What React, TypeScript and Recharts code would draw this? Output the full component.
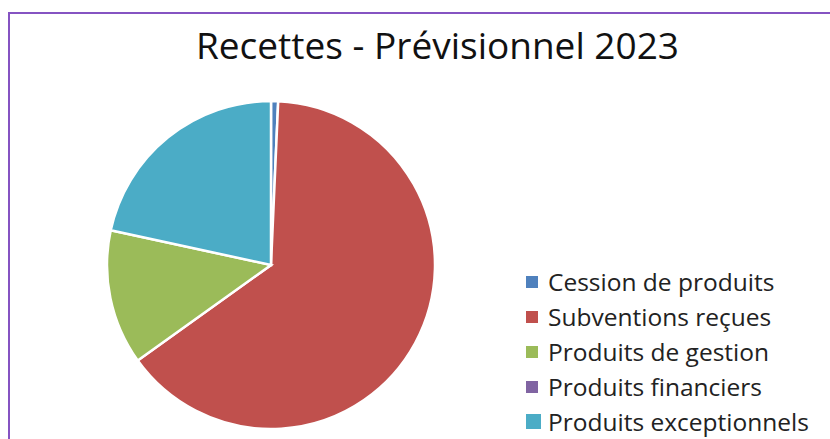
import React from "react";
import { PieChart, Pie, Cell, Legend } from "recharts";

const categories = [
  "Cession de produits",
  "Subventions reçues",
  "Produits de gestion",
  "Produits financiers",
  "Produits exceptionnels",
];
const shares = [0.7, 64.4, 13.3, 0, 21.6];
const colors = ["#4F81BD", "#C0504D", "#9BBB59", "#8064A2", "#4BACC6"];
const title = "Recettes - Prévisionnel 2023";

const data = categories.map((name, i) => ({ name, value: shares[i] }));

const FONT = "'Open Sans', Lato, sans-serif";

const LegendContent = () => (
  <div style={{ fontFamily: FONT }}>
    {categories.map((name, i) => {
      const sz = i === 4 ? 15 : 12;
      return (
        <div
          key={name}
          style={{ display: "flex", alignItems: "center", height: 35 }}
        >
          <span
            style={{
              display: "inline-block",
              width: 16,
              height: 16,
              marginRight: 6,
              position: "relative",
            }}
          >
            <span
              style={{
                position: "absolute",
                left: 0,
                top: (16 - sz) / 2,
                width: sz,
                height: sz,
                background: colors[i],
              }}
            />
          </span>
          <span style={{ fontSize: 24.5, color: "#222", whiteSpace: "nowrap" }}>
            {name}
          </span>
        </div>
      );
    })}
  </div>
);

export default function App() {
  return (
    <div
      style={{
        position: "fixed",
        left: 0,
        top: 0,
        width: 830,
        height: 439,
        background: "#fff",
        overflow: "hidden",
      }}
    >
      <div
        style={{
          position: "absolute",
          left: 8,
          top: 12,
          width: 840,
          height: 440,
          borderTop: "2px solid #8553C2",
          borderLeft: "2px solid #8553C2",
          boxSizing: "border-box",
        }}
      />
      <div
        style={{
          position: "absolute",
          left: 0,
          top: 19,
          width: 875,
          textAlign: "center",
          fontFamily: FONT,
          fontSize: 37,
          lineHeight: "normal",
          color: "#111",
          whiteSpace: "nowrap",
        }}
      >
        {title}
      </div>
      <div style={{ position: "absolute", left: 0, top: 0 }}>
        <PieChart width={830} height={439}>
          <Pie
            data={data}
            dataKey="value"
            nameKey="name"
            cx={266}
            cy={260}
            outerRadius={164}
            startAngle={90}
            endAngle={-270}
            stroke="#fff"
            strokeWidth={2.5}
            isAnimationActive={false}
          >
            {data.map((d, i) => (
              <Cell key={d.name} fill={colors[i]} />
            ))}
          </Pie>
          <Legend
            content={<LegendContent />}
            wrapperStyle={{
              position: "absolute",
              left: 526,
              top: 264,
              width: 300,
              bottom: "auto",
            }}
          />
        </PieChart>
      </div>
    </div>
  );
}
